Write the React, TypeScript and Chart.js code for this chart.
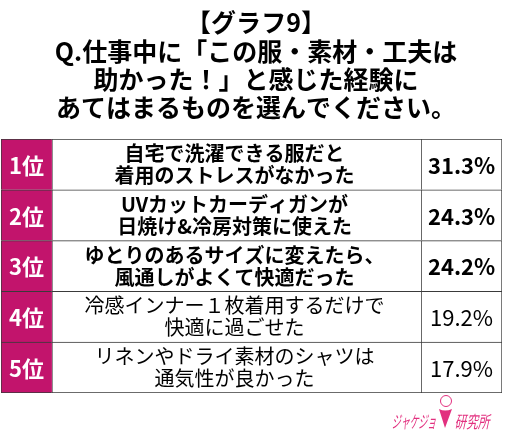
import React, { useEffect, useRef } from 'react';
import { Chart, registerables } from 'chart.js';

Chart.register(...registerables);

const TITLE_LINES = [
  '【グラフ9】',
  'Q.仕事中に「この服・素材・工夫は',
  '助かった！」と感じた経験に',
  'あてはまるものを選んでください。',
];
const RANKS = ['1位', '2位', '3位', '4位', '5位'];
const ITEMS = [
  ['自宅で洗濯できる服だと', '着用のストレスがなかった'],
  ['UVカットカーディガンが', '日焼け&冷房対策に使えた'],
  ['ゆとりのあるサイズに変えたら、', '風通しがよくて快適だった'],
  ['冷感インナー１枚着用するだけで', '快適に過ごせた'],
  ['リネンやドライ素材のシャツは', '通気性が良かった'],
];
const VALUES = [31.3, 24.3, 24.2, 19.2, 17.9];
const HIGHLIGHTED = 3;
const BRAND_LEFT = 'ジャケジョ';
const BRAND_RIGHT = '研究所';

const FONT = '"Noto Sans CJK JP", "Noto Sans", sans-serif';
const MAGENTA = '#C2146C';
const LINE = '#3a3a3a';
const PINK = '#E2307F';
// column layout in table units (0..502)
const COL_EDGES = [0, 51, 421, 502];

function drawSquashed(ctx: any, text: string, x: number, y: number, sx: number) {
  ctx.save();
  ctx.translate(x, y);
  ctx.transform(1, 0, -0.22, 1, 0, 0);
  ctx.scale(sx, 1);
  ctx.fillText(text, 0, 0);
  ctx.restore();
}

const tablePlugin = {
  id: 'tableText',
  afterDatasetsDraw(chart: any) {
    const ctx = chart.ctx;
    ctx.save();
    ctx.textAlign = 'center';
    ctx.textBaseline = 'middle';
    const rankMeta = chart.getDatasetMeta(0);
    const itemMeta = chart.getDatasetMeta(1);
    const valMeta = chart.getDatasetMeta(2);
    RANKS.forEach((r, i) => {
      const bold = i < HIGHLIGHTED;
      const re = rankMeta.data[i].getProps(['x', 'y', 'base'], true);
      ctx.fillStyle = '#fff';
      ctx.font = `bold 22px ${FONT}`;
      ctx.fillText(r, (re.x + re.base) / 2, re.y + 1);

      const ie = itemMeta.data[i].getProps(['x', 'y', 'base'], true);
      ctx.fillStyle = '#000';
      ctx.font = `${bold ? 'bold ' : ''}20px ${FONT}`;
      const lines = ITEMS[i];
      const lh = 22;
      lines.forEach((t, k) => {
        const yy = ie.y + (k - (lines.length - 1) / 2) * lh;
        ctx.fillText(t, (ie.x + ie.base) / 2 - 2, yy);
      });

      const ve = valMeta.data[i].getProps(['x', 'y', 'base'], true);
      ctx.font = `${bold ? 'bold ' : ''}22px ${FONT}`;
      ctx.fillText(`${VALUES[i].toFixed(1)}%`, (ve.x + ve.base) / 2, ve.y + 1);
    });
    ctx.restore();
  },
  afterDraw(chart: any) {
    const ctx = chart.ctx;
    ctx.save();
    // title
    ctx.fillStyle = '#000';
    ctx.textAlign = 'center';
    ctx.textBaseline = 'middle';
    ctx.font = `bold 25px ${FONT}`;
    const cx = 256;
    const ys = [22, 51, 79, 107];
    TITLE_LINES.forEach((t, i) => ctx.fillText(t, cx, ys[i]));

    // brand logo
    const area = chart.chartArea;
    const by = area.bottom + 29;
    ctx.fillStyle = PINK;
    ctx.strokeStyle = PINK;
    ctx.textAlign = 'left';
    ctx.font = `17px ${FONT}`;
    drawSquashed(ctx, BRAND_LEFT, 393, by, 0.52);
    drawSquashed(ctx, BRAND_RIGHT, 456, by, 0.68);
    // small figure icon
    ctx.lineWidth = 1;
    ctx.beginPath();
    ctx.arc(446, 401, 5.5, 0, Math.PI * 2);
    ctx.stroke();
    ctx.beginPath();
    ctx.moveTo(439, 409);
    ctx.quadraticCurveTo(445, 412, 452, 409);
    ctx.lineTo(445, 428);
    ctx.closePath();
    ctx.fill();
    ctx.restore();
  },
};

export default function App() {
  const ref = useRef<HTMLCanvasElement | null>(null);
  useEffect(() => {
    if (!ref.current) return;
    const n = RANKS.length;
    const cell = (k: number) => (c: any) => ({
      top: 1,
      left: 1,
      right: k === COL_EDGES.length - 2 ? 1 : 0,
      bottom: c.dataIndex === n - 1 ? 1 : 0,
    });
    const mk = (k: number, color: string) => ({
      data: RANKS.map(() => [COL_EDGES[k], COL_EDGES[k + 1]]),
      backgroundColor: color,
      borderColor: LINE,
      borderWidth: cell(k),
      borderSkipped: false,
      grouped: false,
      barPercentage: 1,
      categoryPercentage: 1,
    });
    const chart = new Chart(ref.current, {
      type: 'bar',
      data: {
        labels: RANKS,
        datasets: [mk(0, MAGENTA), mk(1, '#ffffff'), mk(2, '#ffffff')] as any,
      },
      options: {
        indexAxis: 'y',
        animation: false,
        responsive: false,
        layout: { padding: { top: 139, left: 1, right: 9, bottom: 52 } },
        plugins: {
          legend: { display: false },
          title: { display: false },
          tooltip: { enabled: false },
        },
        scales: {
          x: { display: false, min: COL_EDGES[0], max: COL_EDGES[COL_EDGES.length - 1] },
          y: { display: false },
        },
      },
      plugins: [tablePlugin],
    });
    return () => chart.destroy();
  }, []);
  return (
    <div style={{ position: 'fixed', left: 0, top: 0, width: 511, height: 445, background: '#fff' }}>
      <canvas ref={ref} width={511} height={445} style={{ width: 511, height: 445 }} />
    </div>
  );
}
